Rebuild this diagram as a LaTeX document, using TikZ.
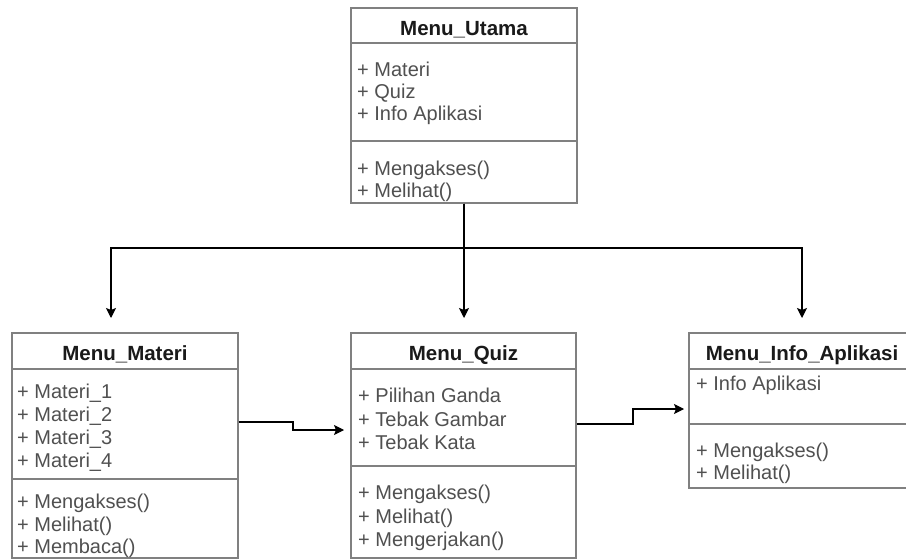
\documentclass[tikz,border=0pt]{standalone}
\usepackage{fontspec}
\setmainfont{Liberation Sans}
\usetikzlibrary{arrows.meta}
\definecolor{bordergray}{HTML}{808080}
\definecolor{txtgray}{HTML}{505050}
\definecolor{titleblk}{HTML}{1A1A1A}
\tikzset{
  box/.style={draw=bordergray, line width=1.2pt, rectangle, inner sep=0pt, minimum width=226pt},
  sepline/.style={draw=bordergray, line width=1.2pt},
  ttl/.style={font=\fontsize{20.5}{24}\selectfont\bfseries, text=titleblk, inner sep=0pt, text height=14.7pt, text depth=0pt},
  itm/.style={font=\fontsize{20}{23}\selectfont, text=txtgray, inner sep=0pt, anchor=west, text height=14.4pt, text depth=0pt},
  conn/.style={draw=black, line width=1.1pt, -{Stealth[length=10pt,width=10pt,inset=2pt]}},
}
\begin{document}
\begin{tikzpicture}[x=1pt,y=-1pt]
\clip (0,0) rectangle (906,559);
\fill[white] (0,0) rectangle (906,559);
% boxes
\node[box, minimum height=195pt] (top) at (464,105.5) {};
\node[box, minimum height=225pt] (lbox) at (125,445.5) {};
\node[box, minimum width=225pt, minimum height=225pt] (mbox) at (463.5,445.5) {};
\node[box, minimum height=155pt] (rbox) at (802,410.5) {};
% separators
\draw[sepline] (top.west |- 0,43) -- (top.east |- 0,43);
\draw[sepline] (top.west |- 0,141) -- (top.east |- 0,141);
\draw[sepline] (lbox.west |- 0,369) -- (lbox.east |- 0,369);
\draw[sepline] (lbox.west |- 0,479) -- (lbox.east |- 0,479);
\draw[sepline] (mbox.west |- 0,369) -- (mbox.east |- 0,369);
\draw[sepline] (mbox.west |- 0,466) -- (mbox.east |- 0,466);
\draw[sepline] (rbox.west |- 0,369) -- (rbox.east |- 0,369);
\draw[sepline] (rbox.west |- 0,424) -- (rbox.east |- 0,424);
% titles
\node[ttl] (t1) at (464,28.5) {Menu\_Utama};
\node[ttl] (t2) at (125,353) {Menu\_Materi};
\node[ttl] (t3) at (463.5,353) {Menu\_Quiz};
\node[ttl] (t4) at (802,353) {Menu\_Info\_Aplikasi};
% top box items
\node[itm] (a1) at (357,69.5) {+ Materi};
\node[itm] (a2) at (357,91.5) {+ Quiz};
\node[itm] (a3) at (357,113.5) {+ Info Aplikasi};
\node[itm] (a4) at (357,168) {+ Mengakses()};
\node[itm] (a5) at (357,190.5) {+ Melihat()};
% left box items
\node[itm] (b1) at (17,391) {+ Materi\_1};
\node[itm] (b2) at (17,414) {+ Materi\_2};
\node[itm] (b3) at (17,437) {+ Materi\_3};
\node[itm] (b4) at (17,460) {+ Materi\_4};
\node[itm] (b5) at (17,501) {+ Mengakses()};
\node[itm] (b6) at (17,524) {+ Melihat()};
\node[itm] (b7) at (17,546.5) {+ Membaca()};
% middle box items
\node[itm] (c1) at (358,395.5) {+ Pilihan Ganda};
\node[itm] (c2) at (358,419) {+ Tebak Gambar};
\node[itm] (c3) at (358,442.5) {+ Tebak Kata};
\node[itm] (c4) at (358,492.5) {+ Mengakses()};
\node[itm] (c5) at (358,516) {+ Melihat()};
\node[itm] (c6) at (358,539.5) {+ Mengerjakan()};
% right box items
\node[itm] (d1) at (696,383) {+ Info Aplikasi};
\node[itm] (d2) at (696,450) {+ Mengakses()};
\node[itm] (d3) at (696,472.5) {+ Melihat()};
% connector ends
\coordinate (eL) at (111,318);
\coordinate (eM) at (464,318);
\coordinate (eR) at (802,318);
\coordinate (eQ) at (344,430);
\coordinate (eI) at (684,409);
% connectors
\draw[conn] (top.south) -- (eM);
\draw[conn] (top.south) -- (464,248) -| (eL);
\draw[conn] (top.south) -- (464,248) -| (eR);
\draw[conn] (lbox.east |- 0,422) -- (293,422) -- (293,430) -- (eQ);
\draw[conn] (mbox.east |- 0,424) -- (633,424) -- (633,409) -- (eI);
\end{tikzpicture}
\end{document}
